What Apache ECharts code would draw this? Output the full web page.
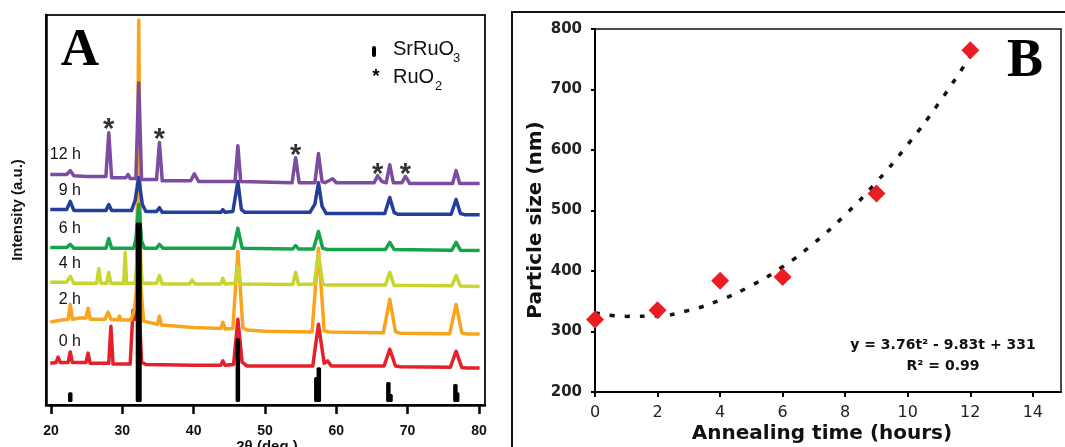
<!DOCTYPE html>
<html>
<head>
<meta charset="utf-8">
<title>SrRuO3 XRD and particle growth</title>
<script src="https://cdn.jsdelivr.net/npm/echarts@6.0.0/dist/echarts.min.js"></script>
<style>
  html, body { margin: 0; padding: 0; background: #fff; }
  #chart { width: 1065px; height: 447px; }
</style>
</head>
<body>
<div id="chart"></div>
<script>
// ---- Panel A: XRD patterns, [2θ (deg), stacked intensity (a.u.)] ----
const trace0h = [[19.9,10.7],[20.7,10.9],[21.0,12.3],[21.3,10.9],[22.4,10.9],[22.7,13.6],[23.0,10.9],[24.9,10.9],[25.2,13.3],[25.5,10.7],[28.1,10.7],[28.4,20.2],[28.7,10.5],[31.1,10.5],[31.5,24.3],[31.8,22.0],[32.3,27.1],[32.7,11.0],[33.3,10.4],[40.0,10.2],[43.8,10.2],[44.1,11.3],[44.4,10.2],[45.6,10.4],[46.2,22.0],[46.8,11.0],[47.5,10.0],[52.0,10.0],[56.7,10.0],[57.5,20.7],[58.3,10.7],[58.8,11.3],[59.3,10.0],[66.7,10.0],[67.5,14.3],[68.3,10.0],[69.0,9.8],[76.0,9.7],[76.8,13.8],[77.6,9.6],[78.3,9.5],[80.1,9.5]];
const trace2h = [[19.9,21.3],[21.5,21.8],[22.4,22.0],[22.7,25.8],[23.0,22.0],[24.0,22.3],[24.9,22.3],[25.2,24.8],[25.5,22.0],[27.6,22.0],[28.0,23.8],[28.4,22.0],[29.4,21.8],[29.6,22.8],[29.8,21.8],[31.2,21.8],[31.7,24.5],[32.0,30.0],[32.3,98.7],[32.6,30.0],[33.0,21.5],[34.9,20.7],[35.2,22.8],[35.5,20.5],[40.0,19.9],[43.8,19.6],[44.1,21.2],[44.4,19.5],[45.5,19.6],[46.2,39.4],[46.9,19.8],[47.5,19.2],[50.0,18.9],[56.6,18.7],[57.5,40.2],[58.3,19.0],[59.0,18.7],[66.6,18.5],[67.5,27.1],[68.3,18.8],[69.0,18.4],[75.9,18.3],[76.8,25.8],[77.6,18.5],[78.3,18.2],[80.1,18.2]];
const trace4h = [[19.9,31.5],[22.2,31.5],[22.7,33.0],[23.2,31.2],[26.4,31.2],[26.7,35.0],[27.0,31.2],[27.8,31.2],[28.1,34.0],[28.4,31.2],[30.2,31.2],[30.4,39.1],[30.6,31.2],[31.8,31.2],[32.3,42.5],[32.8,31.2],[34.8,31.2],[35.2,33.2],[35.6,31.0],[39.4,31.0],[39.8,32.0],[40.2,31.0],[43.8,31.0],[44.1,32.5],[44.4,31.0],[45.8,31.2],[46.2,35.5],[46.6,31.0],[53.9,30.9],[54.3,34.0],[54.7,30.9],[56.9,31.0],[57.5,38.6],[58.1,31.0],[58.6,30.8],[66.9,30.8],[67.5,34.0],[68.1,30.7],[76.2,30.6],[76.8,33.2],[77.4,30.5],[80.1,30.4]];
const trace6h = [[19.9,40.4],[22.2,40.4],[22.7,41.2],[23.2,40.2],[27.7,40.2],[28.1,42.7],[28.5,40.2],[31.6,40.2],[31.9,42.5],[32.3,51.4],[32.7,42.0],[33.1,40.2],[34.8,40.2],[35.2,41.2],[35.7,40.2],[45.6,40.2],[46.2,45.3],[46.8,40.2],[53.9,40.0],[54.3,40.9],[54.7,40.0],[56.8,40.0],[57.5,44.5],[58.1,40.2],[58.7,39.9],[66.9,39.9],[67.5,41.7],[68.1,39.9],[76.2,39.7],[76.8,41.7],[77.4,39.7],[80.1,39.6]];
const trace9h = [[19.9,50.1],[22.2,50.1],[22.7,52.2],[23.2,49.9],[27.7,49.9],[28.1,51.4],[28.5,49.9],[31.3,49.9],[31.8,52.5],[32.3,58.3],[32.8,51.5],[33.3,49.6],[34.8,49.6],[35.2,50.6],[35.6,49.4],[43.8,49.4],[44.1,50.1],[44.4,49.4],[45.5,49.6],[46.2,57.3],[46.7,50.1],[47.2,49.4],[56.3,49.4],[57.0,51.5],[57.5,57.0],[58.0,51.0],[58.6,49.1],[66.8,49.1],[67.5,53.2],[68.1,49.4],[68.6,48.9],[76.1,48.9],[76.8,52.7],[77.4,49.1],[78.0,48.8],[80.1,48.8]];
const trace12h = [[19.9,59.1],[22.2,59.1],[22.7,60.1],[23.2,58.8],[25.0,58.6],[27.7,58.6],[28.1,69.8],[28.5,58.3],[30.5,58.3],[30.8,59.1],[31.1,58.1],[31.9,58.1],[32.3,82.6],[32.7,57.8],[34.8,57.8],[35.2,67.3],[35.6,57.5],[39.6,57.5],[40.1,59.3],[40.7,57.3],[45.8,57.3],[46.2,66.5],[46.6,57.3],[53.8,57.0],[54.3,63.4],[54.8,57.0],[57.0,57.0],[57.5,64.5],[58.0,57.3],[58.4,57.0],[59.5,58.0],[60.0,57.0],[65.3,57.0],[65.8,58.8],[66.4,57.3],[67.0,57.0],[67.5,61.6],[68.0,57.0],[69.2,57.0],[69.7,58.6],[70.3,56.8],[76.3,56.8],[76.8,60.1],[77.3,56.8],[80.1,56.8]];

const traceNames  = ['0 h', '2 h', '4 h', '6 h', '9 h', '12 h'];
const traceColors = ['#e5202a', '#f8a51d', '#c8d52f', '#17a34a', '#243f9a', '#7b4c9f'];

// SrRuO3 reference reflections: [2θ, relative height]
const srRuO3Lines = [[22.7,3.3],[32.3,46.8],[46.2,17.1],[57.2,7.2],[57.55,9.7],[67.3,5.9],[67.6,2.8],[76.7,5.4],[76.95,3.3]];
// RuO2 reflections marked with an asterisk: [2θ, marker height]
const ruO2Marks = [[28.1,72.3],[35.2,69.7],[54.3,65.6],[65.8,60.8],[69.7,60.8]];
const xTicksA = [20, 30, 40, 50, 60, 70, 80];

// ---- Panel B: particle size vs annealing time ----
const annealHours  = [0, 2, 4, 6, 9, 12];
const particleSize = [320, 335, 384, 390, 528, 765];
// quadratic trend line y = 3.76t² - 9.83t + 331, sampled every hour
const fitHours = [0, 1, 2, 3, 4, 5, 6, 7, 8, 9, 10, 11, 12];
const fitSize  = [331, 325, 326, 335, 352, 376, 407, 446, 493, 547, 609, 678, 755];
const xTicksB = [0, 2, 4, 6, 8, 10, 12, 14];

const chart = echarts.init(document.getElementById('chart'), null, { renderer: 'canvas' });

const FA = 'Liberation Sans, Arial, sans-serif';
const FB = 'DejaVu Sans, Verdana, sans-serif';
const FS = 'Liberation Serif, Times New Roman, serif';

const traces = [trace0h, trace2h, trace4h, trace6h, trace9h, trace12h];
const traceSeries = traces.map((d, i) => ({
  name: traceNames[i],
  type: 'line',
  xAxisIndex: 0, yAxisIndex: 0,
  data: d,
  showSymbol: false,
  symbol: 'none',
  lineStyle: { color: traceColors[i], width: 3.5, join: 'round' },
  z: 2,
  silent: true,
  animation: false
}));

// label positions for each pattern (left of the traces)
const traceLabelY = [342, 300, 264, 229, 191, 155];

const graphics = [
  { type: 'text', x: 80, y: 51, style: { text: 'A', font: 'bold 53px ' + FS, fill: '#000', textAlign: 'center', textVerticalAlign: 'middle' } },
  { type: 'text', x: 1025, y: 62, style: { text: 'B', font: 'bold 54px ' + FS, fill: '#000', textAlign: 'center', textVerticalAlign: 'middle' } },
  // legend of panel A
  { type: 'rect', shape: { x: 372, y: 46, width: 4, height: 11, r: 2 }, style: { fill: '#000' } },
  { type: 'text', x: 393, y: 49, style: { text: 'SrRuO', font: '20px ' + FA, fill: '#111', textVerticalAlign: 'middle' } },
  { type: 'text', x: 453, y: 58, style: { text: '3', font: '13px ' + FA, fill: '#111', textVerticalAlign: 'middle' } },
  { type: 'text', x: 376, y: 77, style: { text: '*', font: 'bold 19px ' + FA, fill: '#000', textAlign: 'center', textVerticalAlign: 'middle' } },
  { type: 'text', x: 393, y: 77, style: { text: 'RuO', font: '20px ' + FA, fill: '#111', textVerticalAlign: 'middle' } },
  { type: 'text', x: 435, y: 86, style: { text: '2', font: '13px ' + FA, fill: '#111', textVerticalAlign: 'middle' } },
  // axis titles of panel A
  { type: 'text', x: 18, y: 210, rotation: Math.PI / 2, style: { text: 'Intensity (a.u.)', font: 'bold 15px ' + FA, fill: '#111', textAlign: 'center', textVerticalAlign: 'middle' } },
  { type: 'text', x: 267, y: 447, style: { text: '2θ (deg.)', font: 'bold 15px ' + FA, fill: '#111', textAlign: 'center', textVerticalAlign: 'middle' } },
  // axis titles of panel B
  { type: 'text', x: 536, y: 220, rotation: Math.PI / 2, style: { text: 'Particle size (nm)', font: 'bold 20px ' + FB, fill: '#111', textAlign: 'center', textVerticalAlign: 'middle' } },
  { type: 'text', x: 822, y: 434, style: { text: 'Annealing time (hours)', font: 'bold 20px ' + FB, fill: '#111', textAlign: 'center', textVerticalAlign: 'middle' } },
  // fit equation
  { type: 'text', x: 943, y: 345, style: { text: 'y = 3.76t² - 9.83t + 331', font: 'bold 14px ' + FB, fill: '#111', textAlign: 'center', textVerticalAlign: 'middle' } },
  { type: 'text', x: 943, y: 366, style: { text: 'R² = 0.99', font: 'bold 14px ' + FB, fill: '#111', textAlign: 'center', textVerticalAlign: 'middle' } },
  // outer frame of panel B
  { type: 'rect', shape: { x: 512, y: 12, width: 600, height: 500 }, style: { fill: 'none', stroke: '#111', lineWidth: 2 } }
];
traceNames.forEach((n, i) => {
  graphics.push({ type: 'text', x: 81, y: traceLabelY[i], style: { text: n, font: '16px ' + FA, fill: '#111', textAlign: 'right', textVerticalAlign: 'middle' } });
});

const option = {
  animation: false,
  backgroundColor: '#fff',
  grid: [
    { left: 46, top: 15, right: 580, bottom: 42, show: true, borderColor: '#222', borderWidth: 2, backgroundColor: 'transparent' },
    { left: 595, top: 29, right: 4, bottom: 55, show: true, borderColor: '#111', borderWidth: 1.5, backgroundColor: 'transparent' }
  ],
  xAxis: [
    {
      type: 'value', gridIndex: 0, min: 19.3, max: 80.85,
      axisLine: { show: true, lineStyle: { color: '#000', width: 2.5 } },
      axisTick: { show: true, customValues: xTicksA, length: 9, lineStyle: { color: '#000', width: 2.5 } },
      axisLabel: { show: true, customValues: xTicksA, margin: 19, color: '#111', fontFamily: FA, fontWeight: 'bold', fontSize: 14 },
      splitLine: { show: false }
    },
    {
      type: 'value', gridIndex: 1, min: 0, max: 14.9,
      axisLine: { show: true, lineStyle: { color: '#000', width: 2 } },
      axisTick: { show: true, customValues: xTicksB, length: 5, lineStyle: { color: '#000', width: 2 } },
      axisLabel: { show: true, customValues: xTicksB, margin: 13, color: '#222', fontFamily: FB, fontSize: 16 },
      splitLine: { show: false }
    }
  ],
  yAxis: [
    {
      type: 'value', gridIndex: 0, min: 0, max: 100,
      axisLine: { show: true, lineStyle: { color: '#000', width: 2.5 } },
      axisTick: { show: false }, axisLabel: { show: false }, splitLine: { show: false }
    },
    {
      type: 'value', gridIndex: 1, min: 200, max: 800, interval: 100,
      axisLine: { show: true, lineStyle: { color: '#000', width: 2 } },
      axisTick: { show: true, length: 4, lineStyle: { color: '#000', width: 2 } },
      axisLabel: { show: true, margin: 13, color: '#222', fontFamily: FB, fontWeight: 'bold', fontSize: 15 },
      splitLine: { show: false }
    }
  ],
  series: [
    ...traceSeries,
    {
      name: 'SrRuO3',
      type: 'custom',
      xAxisIndex: 0, yAxisIndex: 0,
      data: srRuO3Lines,
      encode: { x: 0, y: 1 },
      z: 4,
      silent: true,
      renderItem: (params, api) => {
        const top = api.coord([api.value(0), api.value(1)]);
        const bot = api.coord([api.value(0), 0.8]);
        const w = api.value(1) > 40 ? 6 : 4.5;
        return {
          type: 'rect',
          shape: { x: top[0] - w / 2, y: top[1], width: w, height: bot[1] - top[1], r: 1.5 },
          style: { fill: '#000' }
        };
      }
    },
    {
      name: 'RuO2',
      type: 'scatter',
      xAxisIndex: 0, yAxisIndex: 0,
      data: ruO2Marks,
      symbolSize: 1,
      itemStyle: { color: 'rgba(0,0,0,0)' },
      label: { show: true, position: 'inside', formatter: '*', fontFamily: FA, fontWeight: 'bold', fontSize: 29, color: '#000', offset: [0, 7] },
      z: 5,
      silent: true
    },
    {
      name: 'fit',
      type: 'line',
      xAxisIndex: 1, yAxisIndex: 1,
      data: fitHours.map((t, i) => [t, fitSize[i]]),
      smooth: true,
      showSymbol: false,
      symbol: 'none',
      lineStyle: { color: '#111', width: 3.5, type: [5, 10] },
      z: 2,
      silent: true
    },
    {
      name: 'Particle size',
      type: 'scatter',
      xAxisIndex: 1, yAxisIndex: 1,
      data: annealHours.map((t, i) => [t, particleSize[i]]),
      symbol: 'diamond',
      symbolSize: 18,
      itemStyle: { color: '#ec1c24', opacity: 1 },
      z: 3,
      silent: true
    }
  ],
  graphic: graphics
};

chart.setOption(option);
</script>
</body>
</html>
